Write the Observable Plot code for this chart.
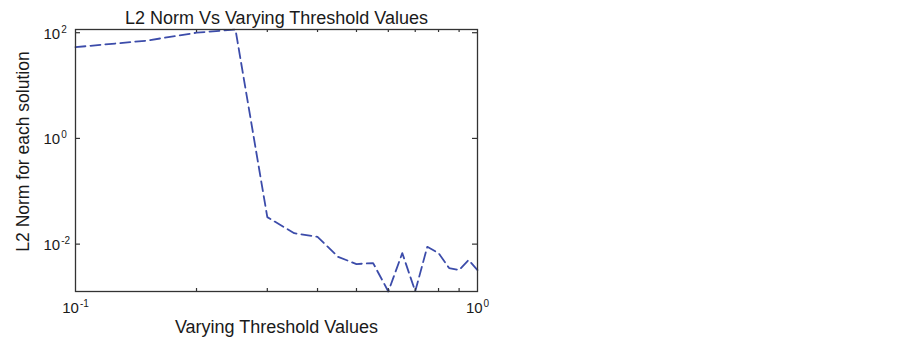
<!DOCTYPE html>
<html>
<head>
<meta charset="utf-8">
<script src="https://cdn.jsdelivr.net/npm/d3@7"></script>
<script src="https://cdn.jsdelivr.net/npm/@observablehq/plot@0.6"></script>
<style>
  html, body { margin: 0; padding: 0; background: #fff; }
</style>
</head>
<body>
<div id="chart"></div>
<script>
// Data
const thresholds = [0.1, 0.15, 0.2, 0.25, 0.3, 0.35, 0.4, 0.45, 0.5, 0.55, 0.6, 0.65, 0.7, 0.75, 0.8, 0.85, 0.9, 0.95, 1.0];
const l2norm = [53.3, 70.6, 100, 115, 0.0324, 0.0161, 0.0137, 0.00575, 0.0042, 0.00438, 0.00127, 0.00676, 0.00128, 0.0089, 0.00676, 0.00352, 0.00323, 0.0050, 0.00323];

const xTicks = [0.1, 1];
const xTickLabels = ["10^-1", "10^0"];
const xMinorTicks = [0.2, 0.3, 0.4, 0.5, 0.6, 0.7, 0.8, 0.9];
const yTicks = [0.01, 1, 100];
const yTickLabels = ["10^-2", "10^0", "10^2"];

const titleText = "L2 Norm Vs Varying Threshold Values";
const xLabelText = "Varying Threshold Values";
const yLabelText = "L2 Norm for each solution";

const data = thresholds.map((t, i) => ({t, v: l2norm[i]}));

const axisColor = "#333";
const lineColor = "#3c4caa";

const chart = Plot.plot({
  width: 903,
  height: 348,
  marginLeft: 75,
  marginRight: 426,
  marginTop: 29,
  marginBottom: 57,
  style: {fontFamily: "'Liberation Sans', Arial, sans-serif", fontSize: "15px", background: "#fff", color: "#1a1a1a"},
  x: {type: "log", domain: [0.1, 1]},
  y: {type: "log", domain: [0.00127, 115]},
  marks: [
    Plot.line(data, {x: "t", y: "v", stroke: lineColor, strokeWidth: 1.8, strokeDasharray: "10,5"}),
    // inward ticks (box style)
    Plot.ruleX(xMinorTicks, {x: d => d, insetTop: 259, stroke: axisColor, strokeWidth: 1.2}),
    Plot.ruleX(xMinorTicks, {x: d => d, insetBottom: 259, stroke: axisColor, strokeWidth: 1.2}),
    Plot.ruleY(yTicks, {y: d => d, insetRight: 397, stroke: axisColor, strokeWidth: 1.2}),
    Plot.ruleY(yTicks, {y: d => d, insetLeft: 397, stroke: axisColor, strokeWidth: 1.2}),
    Plot.frame({stroke: axisColor, strokeWidth: 1.3}),
    Plot.axisX(xTicks, {
      anchor: "bottom", tickSize: 0, tickPadding: 11, label: null, fontSize: 15,
      tickFormat: d => xTickLabels[xTicks.indexOf(d)]
    }),
    Plot.axisY(yTicks, {
      anchor: "left", tickSize: 0, tickPadding: 32, label: null, fontSize: 15, textAnchor: "start", dy: 1,
      tickFormat: d => yTickLabels[yTicks.indexOf(d)]
    }),
    Plot.text([titleText], {frameAnchor: "top", dy: -18.5, fontSize: 18, textAnchor: "middle", fill: "#1a1a1a"}),
    Plot.text([xLabelText], {frameAnchor: "bottom", dy: 41, fontSize: 18, textAnchor: "middle", fill: "#1a1a1a"}),
    Plot.text([yLabelText], {frameAnchor: "left", dx: -52, dy: -9, rotate: -90, fontSize: 17.5, textAnchor: "middle", fill: "#1a1a1a"})
  ]
});

// Render exponents as superscripts
chart.querySelectorAll("text").forEach(t => {
  const m = /^10\^(-?\d+)$/.exec(t.textContent);
  if (m) {
    t.textContent = "10";
    const ts = document.createElementNS("http://www.w3.org/2000/svg", "tspan");
    ts.setAttribute("font-size", "10");
    ts.setAttribute("dy", "-6");
    ts.setAttribute("dx", "1");
    ts.textContent = m[1];
    t.appendChild(ts);
  }
});

document.getElementById("chart").appendChild(chart);
</script>
</body>
</html>
